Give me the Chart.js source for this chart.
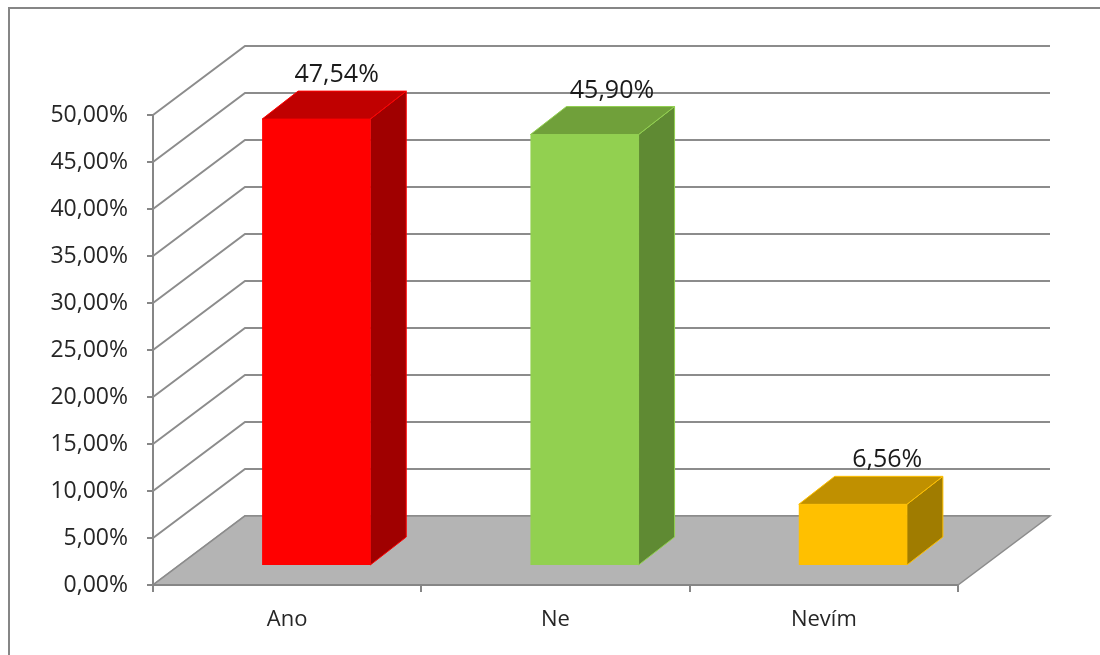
<!DOCTYPE html>
<html>
<head>
<meta charset="utf-8">
<script src="https://cdn.jsdelivr.net/npm/chart.js@4.4.0/dist/chart.umd.min.js"></script>
<style>
  html, body { margin: 0; padding: 0; background: #fff; }
</style>
</head>
<body>
<canvas id="chart" width="1100" height="655"></canvas>
<script>
// values
const categories = ['Ano', 'Ne', 'Nevím'];
const shares = [47.54, 45.90, 6.56];
const yTicks = [0, 5, 10, 15, 20, 25, 30, 35, 40, 45, 50];

// bar face colours
const frontColors = ['#FF0000', '#92D050', '#FFC000'];
const topColors = ['#C00000', '#70A03A', '#C09000'];
const sideColors = ['#A00000', '#5F8A33', '#A07C00'];

const gridGray = '#8C8C8C';
const fontFamily = '"Open Sans", "Liberation Sans", sans-serif';

// fake 3D: wall depth and bar placement/depth
const WALL = { dx: 92, dy: -69 };
const BAR_POS = { dx: 29, dy: -19 };
const BAR_DEPTH = { dx: 36, dy: -28 };

function fmt(v) {
  return v.toFixed(2).replace('.', ',') + '%';
}

function poly(ctx, pts, fill, stroke) {
  ctx.beginPath();
  ctx.moveTo(pts[0][0], pts[0][1]);
  for (let i = 1; i < pts.length; i++) ctx.lineTo(pts[i][0], pts[i][1]);
  ctx.closePath();
  if (fill) { ctx.fillStyle = fill; ctx.fill(); }
  if (stroke) { ctx.strokeStyle = stroke; ctx.stroke(); }
}

const scene3d = {
  id: 'scene3d',
  beforeDraw(chart) {
    const ctx = chart.ctx;
    ctx.save();
    ctx.strokeStyle = '#868686';
    ctx.lineWidth = 2;
    ctx.strokeRect(9, 8, 1200, 800);
    ctx.restore();
  },
  beforeDatasetsDraw(chart) {
    const { ctx, chartArea: a, scales: { y } } = chart;
    ctx.save();
    ctx.lineWidth = 2;
    ctx.strokeStyle = gridGray;
    // side wall diagonals + back wall grid
    yTicks.forEach(v => {
      const py = y.getPixelForValue(v);
      ctx.beginPath();
      ctx.moveTo(a.left, py);
      ctx.lineTo(a.left + WALL.dx, py + WALL.dy);
      ctx.lineTo(a.right + WALL.dx, py + WALL.dy);
      ctx.stroke();
    });
    // floor
    const b = y.getPixelForValue(0);
    ctx.lineWidth = 1.5;
    poly(ctx, [
      [a.left, b],
      [a.left + WALL.dx, b + WALL.dy],
      [a.right + WALL.dx, b + WALL.dy],
      [a.right, b]
    ], '#B4B4B4', gridGray);
    ctx.beginPath();
    ctx.lineWidth = 2;
    ctx.strokeStyle = '#868686';
    ctx.moveTo(a.left, b);
    ctx.lineTo(a.right, b);
    ctx.stroke();
    ctx.restore();
  },
  afterDatasetsDraw(chart) {
    const { ctx, chartArea: a } = chart;
    const meta = chart.getDatasetMeta(0);
    ctx.save();
    ctx.lineWidth = 1;
    meta.data.forEach((el, i) => {
      const l = el.x - el.width / 2 + BAR_POS.dx;
      const r = el.x + el.width / 2 + BAR_POS.dx;
      const t = el.y + BAR_POS.dy;
      const bt = el.base + BAR_POS.dy;
      const ddx = BAR_DEPTH.dx, ddy = BAR_DEPTH.dy;
      // side
      poly(ctx, [[r, t], [r + ddx, t + ddy], [r + ddx, bt + ddy], [r, bt]], sideColors[i], frontColors[i]);
      // top
      poly(ctx, [[l, t], [l + ddx, t + ddy], [r + ddx, t + ddy], [r, t]], topColors[i], frontColors[i]);
      // front
      poly(ctx, [[l, t], [r, t], [r, bt], [l, bt]], frontColors[i], null);

      // value label above the top face
      const cx = (l + r) / 2 + ddx / 2 + (el.x - a.left) * 0.026 - 1;
      ctx.fillStyle = '#1A1A1A';
      ctx.font = '25px ' + fontFamily;
      ctx.textAlign = 'center';
      ctx.textBaseline = 'alphabetic';
      ctx.fillText(fmt(shares[i]), cx, t + ddy - 9);
    });
    ctx.restore();
  }
};

const ctx = document.getElementById('chart').getContext('2d');
new Chart(ctx, {
  type: 'bar',
  data: {
    labels: categories,
    datasets: [{
      data: shares,
      backgroundColor: 'rgba(0,0,0,0)',
      borderWidth: 0,
      barPercentage: 0.403,
      categoryPercentage: 1
    }]
  },
  options: {
    responsive: false,
    animation: false,
    layout: { padding: { left: 10, top: 115, right: 142, bottom: 0 } },
    plugins: {
      legend: { display: false },
      tooltip: { enabled: false }
    },
    scales: {
      x: {
        grid: { offset: true, drawOnChartArea: false, tickLength: 7, color: '#868686', lineWidth: 2 },
        border: { color: '#868686', width: 2 },
        ticks: { padding: 15, color: '#262626', font: { family: fontFamily, size: 22 } },
        afterFit(s) { s.height = 70; }
      },
      y: {
        min: 0,
        max: 50,
        grid: { drawOnChartArea: false, tickLength: 6, color: '#868686', lineWidth: 2 },
        border: { color: '#868686', width: 2 },
        ticks: {
          stepSize: 5,
          padding: 19,
          color: '#262626',
          font: { family: fontFamily, size: 23 },
          callback: v => fmt(v)
        },
        afterFit(s) { s.width = 143; }
      }
    }
  },
  plugins: [scene3d]
});
</script>
</body>
</html>
